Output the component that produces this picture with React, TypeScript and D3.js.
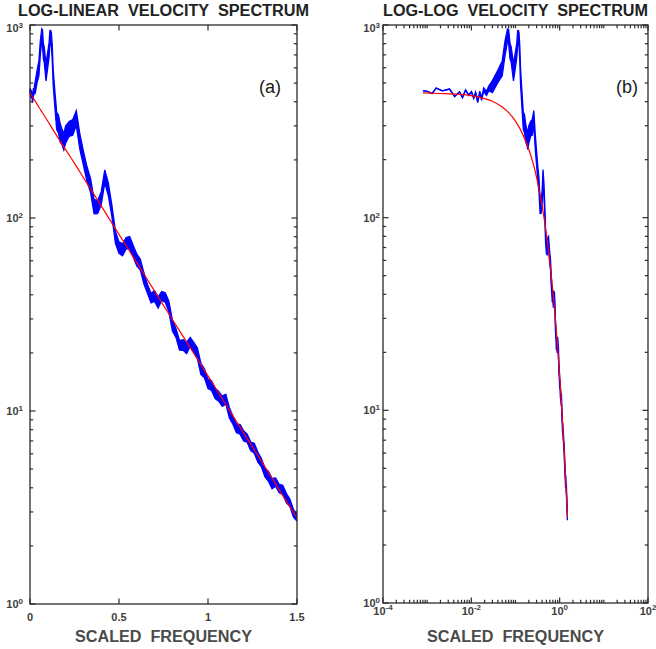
import React from 'react';
import * as d3 from 'd3';

const W = 656;
const H = 649;

// ---- spectrum (blue) : frequency, mid value, relative band spread up / down ----
const freq = [
  0.0008, 0.001, 0.0013, 0.0016, 0.0022, 0.0032, 0.0042, 0.0054, 0.0063, 0.0074,
  0.0087, 0.0101, 0.0113, 0.0125, 0.0139, 0.0155, 0.0171, 0.019, 0.022, 0.025,
  0.03, 0.04, 0.05, 0.058, 0.062, 0.066, 0.07, 0.075, 0.08, 0.09,
  0.10, 0.107, 0.112, 0.116, 0.12, 0.125, 0.13, 0.14, 0.15, 0.16,
  0.17, 0.18, 0.19, 0.20,
  0.22, 0.24, 0.26, 0.28, 0.30, 0.32, 0.34, 0.36, 0.38, 0.40,
  0.42, 0.44, 0.46, 0.48, 0.50, 0.52, 0.54, 0.56, 0.58, 0.60,
  0.62, 0.64, 0.66, 0.68, 0.70, 0.72, 0.74, 0.76, 0.78, 0.80,
  0.82, 0.84, 0.86, 0.88, 0.90, 0.92, 0.94, 0.96, 0.98, 1.00,
  1.02, 1.04, 1.06, 1.08, 1.10, 1.12, 1.14, 1.16, 1.18, 1.20,
  1.22, 1.24, 1.26, 1.28, 1.30, 1.32, 1.34, 1.36, 1.38, 1.40,
  1.42, 1.44, 1.46, 1.48, 1.50,
];
const specMid = [
  456, 452, 441, 470, 455, 465, 426, 450, 420, 460,
  430, 452, 415, 448, 399, 445, 415, 462, 440, 470,
  485, 530, 620, 740, 840, 885, 860, 760, 680, 590,
  650, 760, 850, 875, 840, 700, 560, 400, 330, 300,
  284, 258, 256, 265,
  282, 305, 318, 255, 200, 176, 143, 118, 112, 130,
  160, 145, 106, 82, 69, 70, 72, 77, 66, 62,
  56, 50, 42, 39.5, 38.5, 37.5, 38.5, 39.8, 34, 28.5,
  24.8, 22.5, 21.5, 21.8, 22.3, 22, 19.5, 17, 15.3, 14.2,
  13.3, 12.6, 11.6, 11.6, 11.3, 10, 8.8, 8.3, 7.9, 7.6,
  7.1, 6.7, 6.3, 5.9, 5.3, 4.9, 4.5, 4.3, 4.2, 4.05,
  3.85, 3.6, 3.3, 3.0, 2.8,
];
const spreadUp = [
  0, 0, 0, 0, 0, 0, 0, 0, 0, 0,
  0.01, 0, 0.01, 0, 0.01, 0.02, 0.01, 0.02, 0.03, 0.03,
  0.06, 0.1, 0.05, 0.12, 0.06, 0.08, 0.1, 0.06, 0.13, 0.07,
  0.12, 0.06, 0.1, 0.07, 0.09, 0.12, 0.06, 0.13, 0.07, 0.14,
  0.08, 0.12, 0.07, 0.13,
  0.12, 0.06, 0.13, 0.07, 0.11, 0.05, 0.12, 0.06, 0.1, 0.05,
  0.11, 0.05, 0.1, 0.04, 0.09, 0.05, 0.1, 0.04, 0.09, 0.05,
  0.09, 0.04, 0.08, 0.03, 0.09, 0.04, 0.08, 0.03, 0.09, 0.04,
  0.08, 0.03, 0.09, 0.04, 0.08, 0.03, 0.09, 0.04, 0.08, 0.03,
  0.08, 0.04, 0.09, 0.03, 0.08, 0.04, 0.07, 0.03, 0.08, 0.04,
  0.07, 0.03, 0.08, 0.04, 0.07, 0.03, 0.08, 0.04, 0.07, 0.03,
  0.07, 0.04, 0.06, 0.03, 0.04,
];
const spreadDown = [
  0, 0, 0, 0, 0, 0, 0, 0, 0, 0,
  0, 0.01, 0, 0.01, 0.01, 0.01, 0.02, 0.02, 0.02, 0.03,
  0.08, 0.05, 0.12, 0.06, 0.1, 0.06, 0.07, 0.12, 0.06, 0.13,
  0.07, 0.11, 0.06, 0.08, 0.07, 0.06, 0.12, 0.07, 0.13, 0.08,
  0.13, 0.07, 0.12, 0.08,
  0.06, 0.12, 0.05, 0.11, 0.06, 0.12, 0.05, 0.11, 0.06, 0.1,
  0.05, 0.1, 0.04, 0.1, 0.05, 0.09, 0.04, 0.1, 0.05, 0.09,
  0.04, 0.09, 0.03, 0.08, 0.04, 0.09, 0.03, 0.08, 0.04, 0.09,
  0.03, 0.08, 0.04, 0.09, 0.03, 0.08, 0.04, 0.09, 0.03, 0.08,
  0.04, 0.08, 0.03, 0.09, 0.04, 0.08, 0.03, 0.07, 0.04, 0.08,
  0.03, 0.07, 0.04, 0.08, 0.03, 0.07, 0.04, 0.08, 0.03, 0.07,
  0.04, 0.07, 0.03, 0.06, 0.04,
];

// ---- fitted model (red) ----
const fitFreq = [
  0.0008, 0.002, 0.005, 0.01, 0.02, 0.03, 0.05, 0.07, 0.1, 0.15,
  0.2, 0.25, 0.3, 0.4, 0.5, 0.6, 0.7, 0.8, 0.9, 1.0,
  1.1, 1.2, 1.3, 1.4, 1.5,
];
const fitValue = [
  444, 441, 437, 430, 415, 402, 375, 351, 317, 267,
  226, 192, 162, 115.5, 82.3, 58.7, 41.8, 29.8, 21.3, 15.2,
  10.8, 7.7, 5.5, 3.9, 2.8,
];

// ---- axis ticks ----
const linTicks = [0, 0.5, 1, 1.5];
const linTickLabels = ['0', '0.5', '1', '1.5'];
const yDecades = [0, 1, 2, 3];
const xDecadesB = [-4, -3, -2, -1, 0, 1, 2];
const xLabeledDecadesB = [-4, -2, 0, 2];

const titles = ['LOG-LINEAR  VELOCITY  SPECTRUM', 'LOG-LOG  VELOCITY  SPECTRUM'];
const xLabel = 'SCALED  FREQUENCY';
const panelTags = ['(a)', '(b)'];

const FONT = "'Liberation Sans', Arial, Helvetica, sans-serif";
const AXIS_COLOR = '#2b2b2b';
const LABEL_COLOR = '#404040';

type Pt = { f: number; mid: number; lo: number; hi: number };
const spectrum: Pt[] = freq.map((f, i) => ({
  f,
  mid: specMid[i],
  lo: specMid[i] * (1 - spreadDown[i]),
  hi: specMid[i] * (1 + spreadUp[i]),
}));
const fit = fitFreq.map((f, i) => ({ f, v: fitValue[i] }));

function minorLog(lo: number, hi: number): number[] {
  const out: number[] = [];
  for (let k = lo; k < hi; k++) {
    for (let m = 2; m <= 9; m++) out.push(m * Math.pow(10, k));
  }
  return out;
}

function Panel(props: {
  left: number; right: number; top: number; bottom: number;
  logX: boolean; title: string; titleWidth: number; tag: string; tagX: number;
}) {
  const { left, right, top, bottom, logX, title, titleWidth, tag, tagX } = props;
  const x: any = logX
    ? d3.scaleLog().domain([1e-4, 1e2]).range([left, right])
    : d3.scaleLinear().domain([0, 1.5]).range([left, right]);
  const y = d3.scaleLog().domain([1, 1000]).range([bottom, top]);

  const area = d3.area<Pt>().x(d => x(d.f)).y0(d => y(d.lo)).y1(d => y(d.hi));
  const loLine = d3.line<Pt>().x(d => x(d.f)).y(d => y(d.lo));
  const hiLine = d3.line<Pt>().x(d => x(d.f)).y(d => y(d.hi));
  const fitLine = d3.line<{ f: number; v: number }>()
    .x(d => x(d.f)).y(d => y(d.v)).curve(d3.curveMonotoneX);

  const MAJ = 5.5, MIN = 3.2;
  const ticks: any[] = [];
  yDecades.forEach(k => {
    const yy = y(Math.pow(10, k));
    ticks.push(<line key={`ymL${k}`} x1={left} x2={left + MAJ} y1={yy} y2={yy} />);
    ticks.push(<line key={`ymR${k}`} x1={right} x2={right - MAJ} y1={yy} y2={yy} />);
  });
  minorLog(0, 3).forEach((v, i) => {
    const yy = y(v);
    ticks.push(<line key={`ynL${i}`} x1={left} x2={left + MIN} y1={yy} y2={yy} />);
    ticks.push(<line key={`ynR${i}`} x1={right} x2={right - MIN} y1={yy} y2={yy} />);
  });
  if (!logX) {
    linTicks.forEach((v, i) => {
      const xx = x(v);
      ticks.push(<line key={`xb${i}`} x1={xx} x2={xx} y1={bottom} y2={bottom - MAJ} />);
      ticks.push(<line key={`xt${i}`} x1={xx} x2={xx} y1={top} y2={top + MAJ} />);
    });
  } else {
    xDecadesB.forEach(k => {
      const xx = x(Math.pow(10, k));
      const len = xLabeledDecadesB.includes(k) ? MAJ : MIN;
      ticks.push(<line key={`xb${k}`} x1={xx} x2={xx} y1={bottom} y2={bottom - len} />);
      ticks.push(<line key={`xt${k}`} x1={xx} x2={xx} y1={top} y2={top + len} />);
    });
    minorLog(-4, 2).forEach((v, i) => {
      const xx = x(v);
      ticks.push(<line key={`xnb${i}`} x1={xx} x2={xx} y1={bottom} y2={bottom - MIN} />);
      ticks.push(<line key={`xnt${i}`} x1={xx} x2={xx} y1={top} y2={top + MIN} />);
    });
  }

  const yLabelX = logX ? left - 3 : left - 7;

  return (
    <g>
      <text x={(left + right) / 2} y={16} textAnchor="middle" fontFamily={FONT}
        fontWeight="bold" fontSize={16} fill="#222" textLength={titleWidth}
        lengthAdjust="spacingAndGlyphs" style={{ whiteSpace: 'pre' }}>
        {title}
      </text>

      <path d={area(spectrum) || ''} fill="#0000ff" stroke="none" />
      <path d={loLine(spectrum) || ''} fill="none" stroke="#0000ff" strokeWidth={1.3} />
      <path d={hiLine(spectrum) || ''} fill="none" stroke="#0000ff" strokeWidth={1.3} />
      <path d={fitLine(fit) || ''} fill="none" stroke="#ff0000" strokeWidth={1.2} />

      <rect x={left} y={top} width={right - left} height={bottom - top}
        fill="none" stroke={AXIS_COLOR} strokeWidth={1.3} />
      <g stroke={AXIS_COLOR} strokeWidth={1.2}>{ticks}</g>

      <g fontFamily={FONT} fontWeight="bold" fill={LABEL_COLOR} fontSize={11}>
        {yDecades.map(k => (
          <text key={`yl${k}`} x={yLabelX} y={y(Math.pow(10, k)) + (k === 3 ? 7 : 4)} textAnchor="end">
            10<tspan dy={-4} fontSize={8}>{k}</tspan>
          </text>
        ))}
        {!logX && linTicks.map((v, i) => (
          <text key={`xl${i}`} x={x(v)} y={621} textAnchor="middle">{linTickLabels[i]}</text>
        ))}
        {logX && xLabeledDecadesB.map(k => (
          <text key={`xl${k}`} x={x(Math.pow(10, k))} y={615} textAnchor="middle">
            10<tspan dy={-5} fontSize={8}>{k}</tspan>
          </text>
        ))}
      </g>

      <text x={(left + right) / 2} y={642} textAnchor="middle" fontFamily={FONT}
        fontWeight="bold" fontSize={16} fill="#4a4a4a" textLength={177}
        lengthAdjust="spacingAndGlyphs" style={{ whiteSpace: 'pre' }}>
        {xLabel}
      </text>

      <text x={tagX} y={93} textAnchor="middle" fontFamily={FONT} fontSize={18} fill="#1a1a1a">
        {tag}
      </text>
    </g>
  );
}

export default function App() {
  return (
    <svg width={W} height={H} viewBox={`0 0 ${W} ${H}`}
      style={{ position: 'absolute', left: 0, top: 0, background: '#fff' }}>
      <rect x={0} y={0} width={W} height={H} fill="#fff" />
      <Panel left={30} right={297} top={25} bottom={604} logX={false}
        title={titles[0]} titleWidth={291} tag={panelTags[0]} tagX={270} />
      <Panel left={383} right={648} top={25} bottom={603} logX={true}
        title={titles[1]} titleWidth={265} tag={panelTags[1]} tagX={627} />
    </svg>
  );
}
